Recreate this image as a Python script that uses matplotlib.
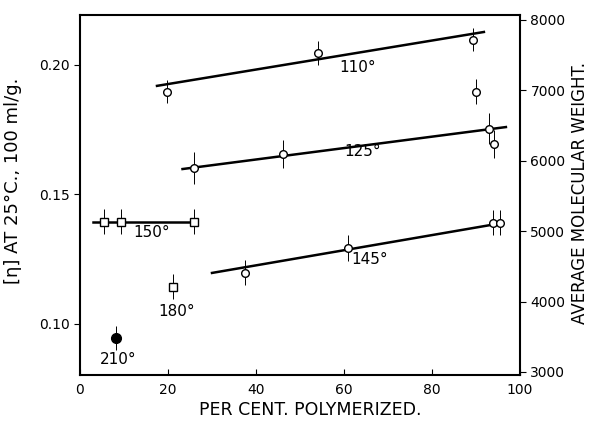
import matplotlib
matplotlib.use("Agg")
import matplotlib.pyplot as plt

# ---- data (x = per cent polymerized, y = [eta]) ----
s110_x = [19.8, 54.1, 89.3, 90.0]
s110_y = [0.1896, 0.2046, 0.2097, 0.1896]
s110_err = [0.0045, 0.0045, 0.0045, 0.0048]
s110_fit_x = [17.5, 91.8]
s110_fit_y = [0.1919, 0.2127]

s125_x = [26.0, 46.2, 93.0, 94.1]
s125_y = [0.1602, 0.1656, 0.1753, 0.1695]
s125_err = [0.0060, 0.0055, 0.0060, 0.0055]
s125_fit_x = [23.3, 96.8]
s125_fit_y = [0.1598, 0.1760]

s150_x = [5.5, 9.3, 26.0]
s150_y = [0.1394, 0.1394, 0.1394]
s150_err = [0.0048, 0.0048, 0.0048]
s150_fit_x = [2.9, 26.1]
s150_fit_y = [0.1394, 0.1394]

s145_x = [37.5, 61.0, 93.9, 95.5]
s145_y = [0.1197, 0.1294, 0.1390, 0.1390]
s145_err = [0.0048, 0.0050, 0.0048, 0.0048]
s145_fit_x = [30.0, 94.7]
s145_fit_y = [0.1197, 0.1386]

s180_x = [21.1]
s180_y = [0.1143]
s180_err = [0.0048]

s210_x = [8.1]
s210_y = [0.0946]
s210_err = [0.0045]

labels = ["110°", "125°", "150°", "145°", "180°", "210°"]
label_x = [63.0, 64.3, 16.3, 65.8, 22.0, 8.7]
label_y = [0.1990, 0.1664, 0.1352, 0.1247, 0.1047, 0.0861]

mw_ticks = [3000, 4000, 5000, 6000, 7000, 8000]
eta_ticks = [0.10, 0.15, 0.20]
x_ticks = [0, 20, 40, 60, 80, 100]

plt.rcParams["font.family"] = ["DejaVu Sans"]

fig = plt.figure(figsize=(5.97, 4.25), dpi=100)
ax = fig.add_axes([0.134, 0.1176, 0.737, 0.8474])

lw_fit = 1.8
for fx, fy in [(s110_fit_x, s110_fit_y), (s125_fit_x, s125_fit_y),
               (s150_fit_x, s150_fit_y), (s145_fit_x, s145_fit_y)]:
    ax.plot(fx, fy, color="black", lw=lw_fit, zorder=2)

open_kw = dict(fmt="o", mfc="white", mec="black", ms=5.5, mew=1.0,
               ecolor="black", elinewidth=0.7, capsize=0, zorder=3)
ax.errorbar(s110_x, s110_y, yerr=s110_err, **open_kw)
ax.errorbar(s125_x, s125_y, yerr=s125_err, **open_kw)
ax.errorbar(s145_x, s145_y, yerr=s145_err, **open_kw)
sq_kw = dict(open_kw, fmt="s", ms=6)
ax.errorbar(s150_x, s150_y, yerr=s150_err, **sq_kw)
ax.errorbar(s180_x, s180_y, yerr=s180_err, **sq_kw)
ax.errorbar(s210_x, s210_y, yerr=s210_err, fmt="o", mfc="black", mec="black",
            ms=7, ecolor="black", elinewidth=0.7, capsize=0, zorder=3)

for t, lx, ly in zip(labels, label_x, label_y):
    ax.text(lx, ly, t, ha="center", va="center", fontsize=11)

ax.set_xlim(0, 100)
ax.set_ylim(0.0803, 0.2193)
ax.set_xticks(x_ticks)
ax.set_yticks(eta_ticks)
ax.set_yticklabels(["0.10", "0.15", "0.20"])
ax.tick_params(axis="x", direction="in", length=4, labelsize=10, pad=6)
ax.tick_params(axis="y", direction="out", length=4, labelsize=10)
ax.set_xlabel("PER CENT. POLYMERIZED.", fontsize=12.5, va="center")
ax.xaxis.set_label_coords(0.523, -0.097)
ax.set_ylabel("[η] AT 25°C., 100 ml/g.", fontsize=13, va="center")
ax.yaxis.set_label_coords(-0.152, 0.54)
for sp in ["top", "right"]:
    ax.spines[sp].set_visible(False)
ax.spines["left"].set_linewidth(1.5)
ax.spines["bottom"].set_linewidth(1.5)
ax.plot([0, 100], [0.2193, 0.2193], color="black", lw=1.5, clip_on=False)

ax2 = ax.twinx()
ax2.set_ylim(2957, 8071)
ax2.set_yticks(mw_ticks)
ax2.tick_params(axis="y", direction="out", length=4, labelsize=10)
ax2.set_ylabel("AVERAGE MOLECULAR WEIGHT.", fontsize=12, va="center")
ax2.yaxis.set_label_coords(1.136, 0.505)
for sp in ["top", "left", "bottom"]:
    ax2.spines[sp].set_visible(False)
ax2.spines["right"].set_linewidth(1.5)

fig.savefig("out.png", dpi=100)
